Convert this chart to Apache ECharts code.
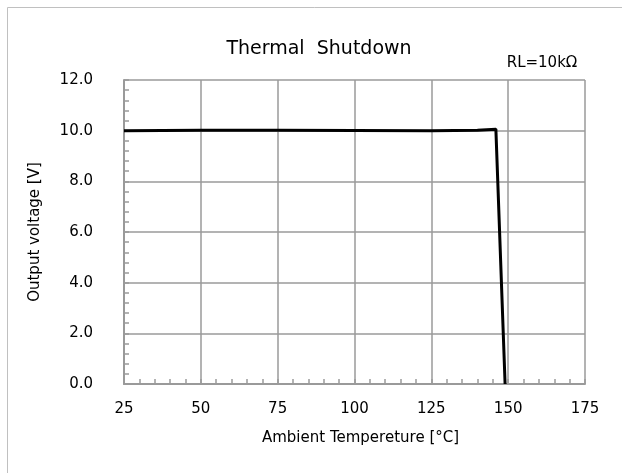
<!DOCTYPE html>
<html>
<head>
<meta charset="utf-8">
<script src="https://cdn.jsdelivr.net/npm/echarts@6/dist/echarts.min.js"></script>
<style>
html,body{margin:0;padding:0;background:#fff;}
#c{width:622px;height:473px;}
</style>
</head>
<body>
<div id="c"></div>
<script>
// Data
var temps   = [25, 50, 75, 100, 125, 140, 146, 149];
var voltage = [10.0, 10.02, 10.02, 10.01, 10.0, 10.02, 10.06, 0.0];
var xTicks = [25, 50, 75, 100, 125, 150, 175];
var yTicks = [0, 2, 4, 6, 8, 10, 12];
var titleText = 'Thermal  Shutdown';
var noteText = 'RL=10k\u03A9';
var xName = 'Ambient Tempereture [\u00B0C]';
var yName = 'Output voltage [V]';

var FONT = 'DejaVu Sans';
var chart = echarts.init(document.getElementById('c'), null, {renderer:'canvas'});
var pts = temps.map(function(t,i){return [t, voltage[i]];});
var gridColor = '#9a9a9a';
chart.setOption({
  animation:false,
  backgroundColor:'#fff',
  title:[
    {text:titleText, left:314, top:35, textAlign:'center',
     textStyle:{fontFamily:FONT, fontSize:19, fontWeight:'normal', color:'#000'}},
    {text:noteText, left:537, top:51, textAlign:'center',
     textStyle:{fontFamily:FONT, fontSize:15, fontWeight:'normal', color:'#000'}}
  ],
  graphic:[
    {type:'line', shape:{x1:7.5,y1:7.5,x2:622,y2:7.5}, style:{stroke:'#c0c0c0',lineWidth:1}, silent:true},
    {type:'line', shape:{x1:7.5,y1:7.5,x2:7.5,y2:473}, style:{stroke:'#c0c0c0',lineWidth:1}, silent:true}
  ],
  grid:{left:124, right:37, top:80, bottom:89},
  xAxis:{
    type:'value', min:xTicks[0], max:xTicks[xTicks.length-1], interval:25,
    name:xName, nameLocation:'middle', nameGap:47,
    nameTextStyle:{fontFamily:FONT, fontSize:15, color:'#000', padding:[0,0,0,12]},
    axisLine:{show:true, lineStyle:{color:gridColor, width:2}},
    axisTick:{show:true, inside:true, length:5, lineStyle:{color:gridColor, width:1.5}},
    minorTick:{show:true, splitNumber:5, length:5, lineStyle:{color:gridColor, width:1.5}},
    splitLine:{show:true, lineStyle:{color:gridColor, width:1.5}},
    axisLabel:{fontFamily:FONT, fontSize:15, color:'#000', margin:18}
  },
  yAxis:{
    type:'value', min:yTicks[0], max:yTicks[yTicks.length-1], interval:2,
    name:yName, nameLocation:'middle', nameGap:81, nameRotate:90,
    nameTextStyle:{fontFamily:FONT, fontSize:15, color:'#000'},
    axisLine:{show:true, lineStyle:{color:gridColor, width:2}},
    axisTick:{show:true, inside:true, length:5, lineStyle:{color:gridColor, width:1.5}},
    minorTick:{show:true, splitNumber:5, length:5, lineStyle:{color:gridColor, width:1.5}},
    splitLine:{show:true, lineStyle:{color:gridColor, width:1.5}},
    axisLabel:{fontFamily:FONT, fontSize:15, color:'#000', margin:31,
      formatter:function(v){return v.toFixed(1);}}
  },
  series:[{
    type:'line', data:pts, showSymbol:false, symbol:'none',
    lineStyle:{color:'#000', width:3}, clip:false
  }]
});
</script>
</body>
</html>
